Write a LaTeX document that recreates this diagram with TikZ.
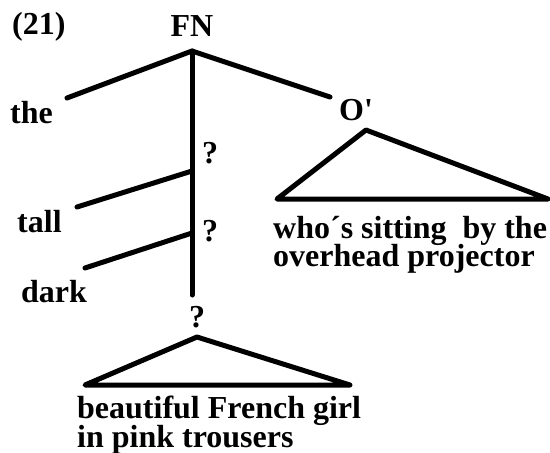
\documentclass[tikz,border=0pt]{standalone}
\usepackage{fontspec}
\setmainfont{Liberation Serif}
\begin{document}
\begin{tikzpicture}[x=1pt,y=-1pt,
  branch/.style={line width=5pt,line cap=round,line join=round},
  lbl/.style={inner sep=0pt,font=\fontsize{32}{28}\selectfont\bfseries},
  wordl/.style={lbl,anchor=base west},
  wordc/.style={lbl,anchor=base}]
\useasboundingbox (0,0) rectangle (550,453);
% labels
\node[wordl] (num) at (12,34) {(21)};
\node[wordc] (fn) at (192,36) {FN};
\node[wordl] (the) at (10,123) {the};
\node[wordl] (tall) at (17,232) {tall};
\node[wordl] (dark) at (21,302) {dark};
\node[wordc] (op) at (356,120) {O\textquotesingle};
\node[wordc] (q1) at (210,163) {?};
\node[wordc] (q2) at (210,241) {?};
\node[wordc] (q3) at (197,327) {?};
\node[wordl] (rel1) at (273,238) {who´s sitting\ \ by the};
\node[wordl] (rel2) at (273,266) {overhead projector};
\node[wordl] (np1) at (77,418) {beautiful French girl};
\node[wordl] (np2) at (77,447) {in pink trousers};
% tree skeleton
\coordinate (top) at (192,51);
\coordinate (n1) at (192,171);
\coordinate (n2) at (192,233);
\coordinate (bot) at (192,295);
\coordinate (theend) at (67,98);
\coordinate (opend) at (330,97);
\coordinate (tallend) at (77,207);
\coordinate (darkend) at (85,268);
\draw[branch] (theend) -- (top) -- (opend);
\draw[branch] (top) -- (bot);
\draw[branch] (tallend) -- (n1);
\draw[branch] (darkend) -- (n2);
% triangles
\coordinate (ta) at (366,130);
\coordinate (tl) at (277,199);
\coordinate (tr) at (548,199);
\draw[branch] (ta) -- (tl) -- (tr) -- cycle;
\coordinate (ba) at (197,337);
\coordinate (bl) at (85,385);
\coordinate (br) at (350,385);
\draw[branch] (ba) -- (bl) -- (br) -- cycle;
\end{tikzpicture}
\end{document}
